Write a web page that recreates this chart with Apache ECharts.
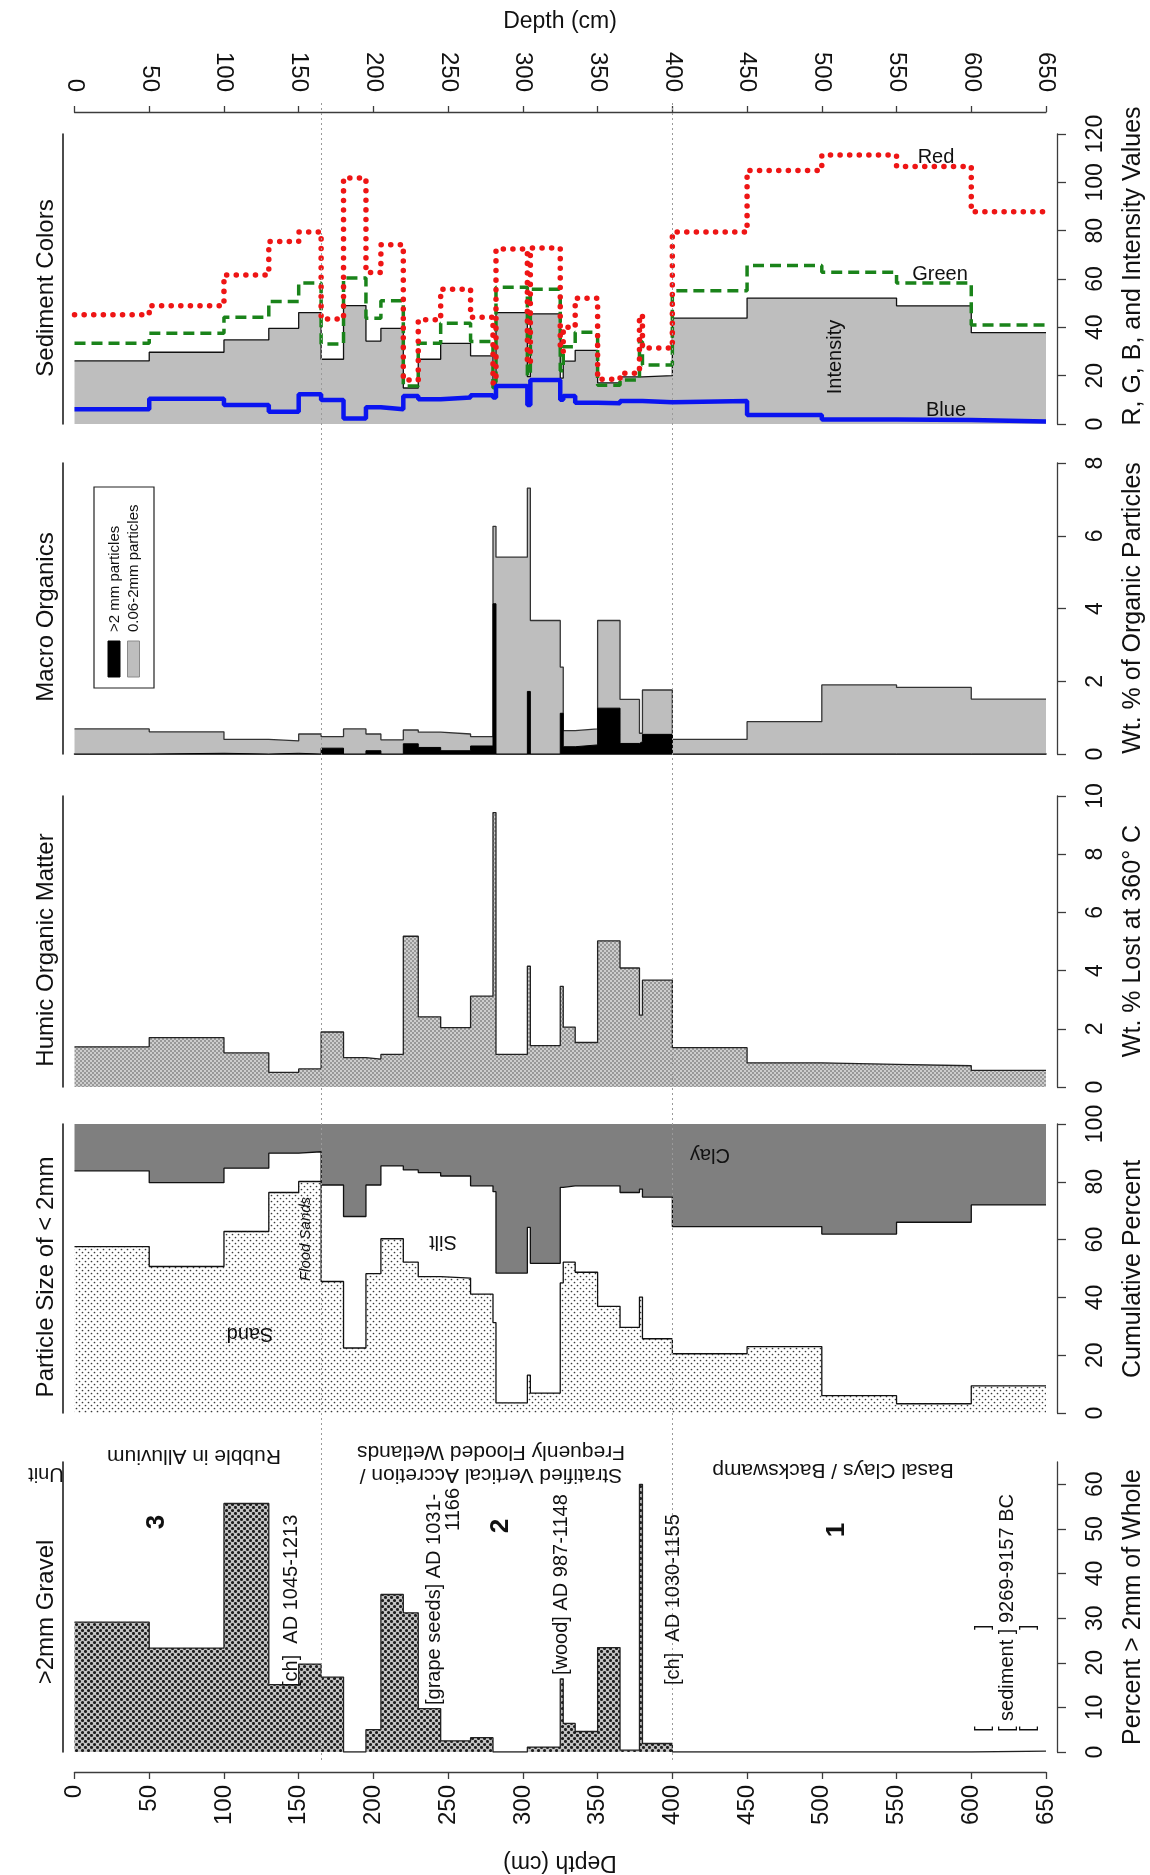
<!DOCTYPE html>
<html>
<head>
<meta charset="utf-8">
<script src="https://cdn.jsdelivr.net/npm/echarts@6/dist/echarts.min.js"></script>
<style>
  html, body { margin: 0; padding: 0; background: #fff; }
  #chart { width: 1150px; height: 1875px; }
</style>
</head>
<body>
<div id="chart"></div>
<script>
// depth interval boundaries (cm), shared by every panel
var depthEdges = [0, 50, 100, 130, 150, 165, 180, 195, 205, 220, 230, 245, 265, 280, 282,
  303, 305, 325, 327, 335, 350, 365, 378, 380, 400, 450, 500, 550, 600, 650];
var depthTicks = [0, 50, 100, 150, 200, 250, 300, 350, 400, 450, 500, 550, 600, 650];
var unitBreaks = [165, 400];

// sediment colours (one value per depth interval)
var intensity = [26.1, 29.7, 34.8, 39.6, 46.1, 26.8, 49, 34.3, 39.6, 14.9, 26.8, 33.4, 28.2, 15,
  46.1, 19.6, 45.6, 19, 26, 30.5, 17, 19.5, 19.5, 20, 43.8, 52.1, 52.1, 48.9, 37.8];
var red = [45.2, 48.9, 61.7, 75.5, 79.4, 43.5, 101.8, 62.7, 74.2, 18.2, 43.1, 55.8, 44.2, 17,
  72.4, 25, 72.8, 30, 40, 52, 18.5, 21, 45, 31.4, 79.4, 104.9, 111.3, 106.6, 87.8];
var green = [33.4, 37.6, 44.2, 50.7, 58.3, 33.1, 60.4, 43.8, 51, 15.7, 33.4, 41.7, 34.1, 15,
  56.6, 20, 55.8, 22, 32, 38, 16, 18.2, 34, 24.4, 55.1, 65.6, 62.8, 58.3, 41];
var blue = [6.1, 10.5, 7.9, 5.1, 12.3, 9.9, 2.3, 6.9, 6.1, 11.6, 10.2, 11, 11.9, 11,
  15.7, 7.9, 18.2, 10, 11.6, 8.8, 8.6, 9.5, 9.5, 9, 9.5, 3.7, 1.9, 1.7, 1];
var colorTicks = [0, 20, 40, 60, 80, 100, 120];

// macro organics, wt %
var macroTotal = [0.69, 0.61, 0.40, 0.36, 0.55, 0.48, 0.69, 0.55, 0.39, 0.66, 0.60, 0.55, 0.48, 6.26,
  5.41, 7.31, 3.67, 2.39, 0.64, 0.69, 3.67, 1.5, 0.57, 1.76, 0.40, 0.89, 1.90, 1.83, 1.51];
var macroCoarse = [0, 0.02, 0, 0.02, 0, 0.16, 0, 0.09, 0, 0.28, 0.18, 0.09, 0.22, 4.13,
  0, 1.72, 0, 1.12, 0.2, 0.25, 1.26, 0.29, 0.34, 0.54, 0, 0, 0, 0, 0];
var macroTicks = [0, 2, 4, 6, 8];

// humic organic matter, wt % lost at 360 C
var humic = [1.38, 1.70, 1.17, 0.50, 0.62, 1.89, 1.01, 0.96, 1.12, 5.18, 2.41, 2.04, 3.12, 9.43,
  1.12, 4.15, 1.42, 3.46, 2.06, 1.53, 5.02, 4.09, 2.47, 3.67, 1.35, 0.83, 0.78, 0.73, 0.57];
var humicTicks = [0, 2, 4, 6, 8, 10];

// particle size, cumulative percent
var sandTop = [57.6, 50.7, 62.8, 76.3, 80.1, 45.5, 22.5, 48.2, 60.3, 52.2, 47.2, 46.7, 41.1, 31.3,
  3.5, 13.1, 6.9, 45, 52.2, 48.7, 36.9, 29.6, 40.1, 25.7, 20.5, 23.0, 6.0, 3.2, 9.4];
var siltTop = [83.8, 79.7, 84.7, 89.9, 90.4, 78.9, 68.0, 78.9, 85.5, 84.1, 83.2, 82.0, 78.6, 76.6,
  48.4, 64.2, 51.8, 78.1, 78.6, 78.6, 78.6, 76.3, 77.5, 74.7, 64.5, 64.5, 61.9, 66.0, 72.0];
var pctTicks = [0, 20, 40, 60, 80, 100];

// >2mm gravel, percent of whole
var gravel = [29.1, 23.3, 55.7, 15.1, 19.7, 16.8, 0, 5.0, 35.3, 31.2, 9.7, 2.5, 3.2, 0,
  0, 1.1, 1.1, 16.4, 6.4, 4.6, 23.4, 0.4, 60, 1.9, 0, 0, 0, 0, 0.2];
var gravelTicks = [0, 10, 20, 30, 40, 50, 60];

var FONT = '"Liberation Sans", Arial, sans-serif';

function steps(vals) {
  var pts = [];
  for (var i = 0; i < vals.length; i++) {
    pts.push([depthEdges[i], vals[i]]);
    pts.push([depthEdges[i + 1], vals[i]]);
  }
  return pts;
}

function dotPattern(size, bg, dot, r, spots) {
  var c = document.createElement('canvas');
  c.width = size;
  c.height = size;
  var g = c.getContext('2d');
  if (bg) {
    g.fillStyle = bg;
    g.fillRect(0, 0, size, size);
  }
  g.fillStyle = dot;
  spots.forEach(function (p) {
    g.beginPath();
    g.arc(p[0], p[1], r, 0, Math.PI * 2);
    g.fill();
  });
  return { image: c, repeat: 'repeat' };
}

var humicFill = dotPattern(4, '#cdcdcd', '#4a4a4a', 0.75, [[1, 1], [3, 3]]);
var sandFill = dotPattern(6, '#ffffff', '#3a3a3a', 0.85, [[1.5, 1.5], [4.5, 4.5]]);
var gravelFill = dotPattern(6, '#c4c4c4', '#1e1e1e', 1.55, [[1.5, 1.5], [4.5, 4.5]]);

// panel layout: top of each grid and its height (px)
var panels = [
  { top: 134, height: 290, max: 120, ticks: colorTicks },
  { top: 463, height: 291, max: 8, ticks: macroTicks },
  { top: 796, height: 291, max: 10, ticks: humicTicks },
  { top: 1124, height: 289, max: 100, ticks: pctTicks },
  { top: 1462, height: 290, max: 65, ticks: gravelTicks }
];

var grids = [], xAxes = [], yAxes = [];
var axisCol = '#3c3c3c';

panels.forEach(function (p, i) {
  grids.push({ left: 74.5, right: 104, top: p.top, height: p.height });
  xAxes.push({
    type: 'value', gridIndex: i, min: 0, max: 650, interval: 50, show: false,
    splitLine: { show: false }
  });
  // right value axis
  yAxes.push({
    type: 'value', gridIndex: i, position: 'right', offset: 11, min: 0, max: p.max,
    axisLine: { show: true, onZero: false, lineStyle: { color: axisCol, width: 1.3 } },
    axisTick: { show: true, length: 9, customValues: p.ticks, lineStyle: { color: axisCol, width: 1.3 } },
    axisLabel: { rotate: 90, margin: 27, fontSize: 23, color: '#111', fontFamily: FONT, customValues: p.ticks },
    splitLine: { show: false }
  });
  // plain line on the left of each panel
  yAxes.push({
    type: 'value', gridIndex: i, position: 'left', offset: 12, min: 0, max: p.max,
    axisLine: { show: true, onZero: false, lineStyle: { color: '#111', width: 1.5 } },
    axisTick: { show: false }, axisLabel: { show: false }, splitLine: { show: false }
  });
});

// depth axis on top
Object.assign(xAxes[0], {
  show: true, position: 'top', offset: 22,
  axisLine: { show: true, onZero: false, lineStyle: { color: axisCol, width: 1.3 } },
  axisTick: { show: true, length: 6, customValues: depthTicks, lineStyle: { color: axisCol, width: 1.3 } },
  axisLabel: { rotate: 90, margin: 20, fontSize: 24, color: '#111', fontFamily: FONT, customValues: depthTicks }
});
// depth axis at the bottom
Object.assign(xAxes[4], {
  show: true, position: 'bottom', offset: 20,
  axisLine: { show: true, onZero: false, lineStyle: { color: axisCol, width: 1.3 } },
  axisTick: { show: true, length: 7, customValues: depthTicks, lineStyle: { color: axisCol, width: 1.3 } },
  axisLabel: { rotate: 90, margin: 13, fontSize: 24, color: '#111', fontFamily: FONT, customValues: depthTicks }
});
// baseline under macro organics
Object.assign(xAxes[1], {
  show: true, axisLine: { show: true, onZero: false, lineStyle: { color: '#000', width: 1.5 } },
  axisTick: { show: false }, axisLabel: { show: false }
});

// overlay grid for the unit boundary lines
grids.push({ left: 74.5, right: 104, top: 100, height: 1660 });
xAxes.push({ type: 'value', gridIndex: 5, min: 0, max: 650, show: false, splitLine: { show: false } });
yAxes.push({ type: 'value', gridIndex: 5, min: 0, max: 1, show: false, splitLine: { show: false } });

function stepSeries(grid, vals, extra) {
  return Object.assign({
    type: 'line', xAxisIndex: grid, yAxisIndex: grid * 2, data: steps(vals),
    symbol: 'none', silent: true
  }, extra);
}

var series = [
  {
    type: 'line', xAxisIndex: 5, yAxisIndex: 10, data: [], symbol: 'none', z: 0, silent: true,
    markLine: {
      silent: true, symbol: 'none', label: { show: false },
      lineStyle: { color: '#9a9a9a', type: [2, 3], width: 1 },
      data: unitBreaks.map(function (d) { return { xAxis: d }; })
    }
  },
  stepSeries(0, intensity, { z: 2, lineStyle: { color: '#111', width: 1.3 }, areaStyle: { color: '#bebebe', opacity: 1 } }),
  stepSeries(0, green, { z: 3, lineStyle: { color: '#1a831a', width: 3.5, type: [11, 6] } }),
  stepSeries(0, red, { z: 4, lineStyle: { color: '#ee1515', width: 5.5, type: [0.1, 9.5], cap: 'round' } }),
  stepSeries(0, blue, { z: 5, lineStyle: { color: '#0a14f0', width: 4.5 } }),

  stepSeries(1, macroTotal, { z: 2, lineStyle: { color: '#333', width: 1.3 }, areaStyle: { color: '#bebebe', opacity: 1 } }),
  stepSeries(1, macroCoarse, { z: 3, lineStyle: { color: '#000', width: 1 }, areaStyle: { color: '#000', opacity: 1 } }),

  stepSeries(2, humic, { z: 2, lineStyle: { color: '#222', width: 1.3 }, areaStyle: { color: humicFill, opacity: 1 } }),

  stepSeries(3, siltTop, { z: 2, lineStyle: { color: '#111', width: 1.3 }, areaStyle: { color: '#7f7f7f', opacity: 1, origin: 'end' } }),
  stepSeries(3, sandTop, { z: 3, lineStyle: { color: '#111', width: 1.3 }, areaStyle: { color: sandFill, opacity: 1, origin: 'start' } }),

  stepSeries(4, gravel, { z: 2, lineStyle: { color: '#222', width: 1.3 }, areaStyle: { color: gravelFill, opacity: 1 } })
];

function txt(s, x, y, o) {
  o = o || {};
  return {
    type: 'text', x: x, y: y, rotation: o.rot || 0, z: 100, silent: true,
    style: {
      text: s, fill: o.fill || '#111', fontSize: o.size || 20, fontFamily: FONT,
      fontWeight: o.weight || 'normal', fontStyle: o.italic ? 'italic' : 'normal',
      textAlign: o.align || 'center', textVerticalAlign: o.valign || 'middle',
      align: o.align || 'center', verticalAlign: o.valign || 'middle'
    }
  };
}

var UP = Math.PI / 2, FLIP = Math.PI;

var graphics = [
  txt('Depth (cm)', 560, 22, { size: 23 }),
  txt('Depth (cm)', 560, 1862, { size: 23, rot: FLIP }),

  txt('Sediment Colors', 46, 288, { size: 24, rot: UP }),
  txt('Macro Organics', 46, 617, { size: 24, rot: UP }),
  txt('Humic Organic Matter', 46, 950, { size: 24, rot: UP }),
  txt('Particle Size of < 2mm', 46, 1277, { size: 24, rot: UP }),
  txt('>2mm Gravel', 46, 1612, { size: 24, rot: UP }),
  txt('Unit', 46, 1474, { size: 20, rot: FLIP }),

  txt('R, G, B, and Intensity Values', 1133, 266, { size: 25, rot: UP }),
  txt('Wt. % of Organic Particles', 1133, 608, { size: 25, rot: UP }),
  txt('Wt. % Lost at 360\u00B0 C', 1133, 941, { size: 25, rot: UP }),
  txt('Cumulative Percent', 1133, 1269, { size: 25, rot: UP }),
  txt('Percent > 2mm of Whole', 1133, 1607, { size: 25, rot: UP }),

  txt('Red', 936, 157, { size: 20 }),
  txt('Green', 940, 274, { size: 20 }),
  txt('Intensity', 835, 357, { size: 20, rot: UP }),
  txt('Blue', 946, 410, { size: 20 }),

  {
    type: 'rect', z: 100, silent: true, shape: { x: 94, y: 487, width: 60, height: 201 },
    style: { fill: '#fff', stroke: '#222', lineWidth: 1.2 }
  },
  {
    type: 'rect', z: 101, silent: true, shape: { x: 108, y: 641, width: 12, height: 36 },
    style: { fill: '#000', stroke: '#000', lineWidth: 1 }
  },
  {
    type: 'rect', z: 101, silent: true, shape: { x: 127.5, y: 641, width: 12, height: 36 },
    style: { fill: '#bebebe', stroke: '#8a8a8a', lineWidth: 1 }
  },
  txt('>2 mm particles', 115, 632, { size: 15, rot: UP, align: 'left' }),
  txt('0.06-2mm particles', 134, 632, { size: 15, rot: UP, align: 'left' }),

  txt('Sand', 250, 1334, { size: 20, rot: FLIP }),
  txt('Silt', 443, 1242, { size: 20, rot: FLIP }),
  txt('Clay', 710, 1155, { size: 20, rot: FLIP }),
  txt('Flood Sands', 306, 1239, { size: 15, rot: UP, italic: true }),

  txt('Rubble in Alluvium', 194, 1456, { size: 21, rot: FLIP }),
  txt('Stratified Vertical Accretion /', 491, 1475, { size: 21, rot: FLIP }),
  txt('Frequenly Flooded Wetlands', 491, 1452, { size: 21, rot: FLIP }),
  txt('Basal Clays / Backswamp', 833, 1470, { size: 21, rot: FLIP }),

  txt('3', 157, 1522, { size: 26, rot: UP, weight: 'bold' }),
  txt('2', 501, 1526, { size: 26, rot: UP, weight: 'bold' }),
  txt('1', 837, 1530, { size: 26, rot: UP, weight: 'bold' }),

  txt('[ch]  AD 1045-1213', 291, 1687, { size: 20, rot: UP, align: 'left' }),
  txt('[grape seeds] AD 1031-', 434, 1705, { size: 20, rot: UP, align: 'left' }),
  txt('1166', 453, 1488, { size: 20, rot: UP, align: 'right' }),
  txt('[wood] AD 987-1148', 561, 1675, { size: 20, rot: UP, align: 'left' }),
  txt('[ch]  AD 1030-1155', 673, 1685, { size: 20, rot: UP, align: 'left' }),
  txt('[ sediment ] 9269-9157 BC', 1007, 1732, { size: 20, rot: UP, align: 'left' }),
  txt('[', 983, 1732, { size: 20, rot: UP, align: 'left' }),
  txt(']', 983, 1630, { size: 20, rot: UP, align: 'left' }),
  txt('[', 1028, 1732, { size: 20, rot: UP, align: 'left' }),
  txt(']', 1028, 1630, { size: 20, rot: UP, align: 'left' })
];

var chart = echarts.init(document.getElementById('chart'), null, { renderer: 'canvas' });
chart.setOption({
  animation: false,
  backgroundColor: '#fff',
  textStyle: { fontFamily: FONT },
  grid: grids,
  xAxis: xAxes,
  yAxis: yAxes,
  series: series,
  graphic: graphics
});
</script>
</body>
</html>
